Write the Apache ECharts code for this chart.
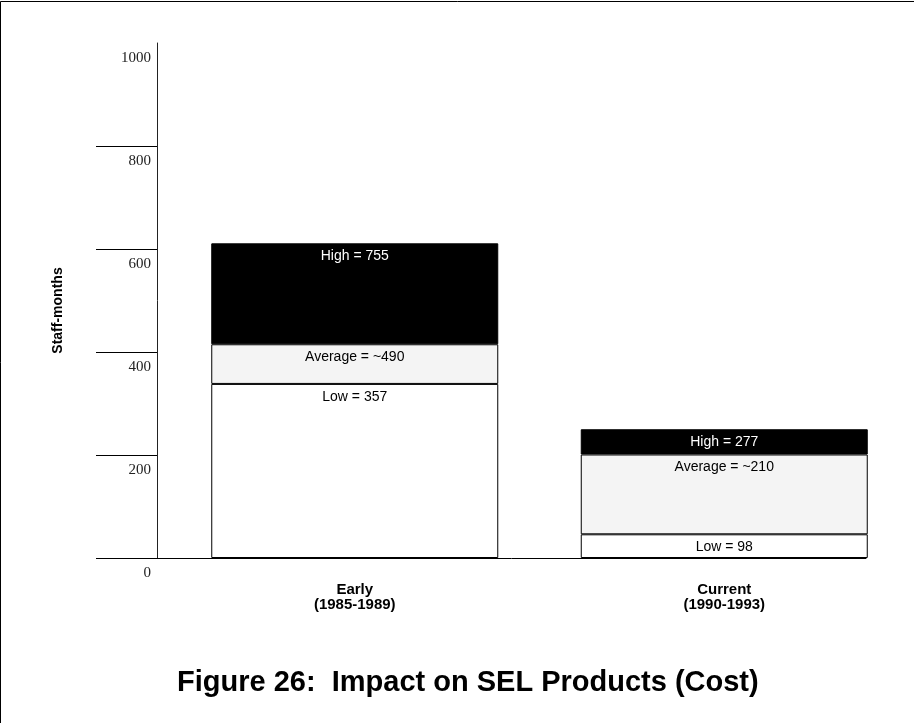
<!DOCTYPE html>
<html>
<head>
<meta charset="utf-8">
<script src="https://cdn.jsdelivr.net/npm/echarts@6/dist/echarts.min.js"></script>
<style>
  html, body { margin: 0; padding: 0; background: #fff; }
  #chart { width: 914px; height: 723px; }
</style>
</head>
<body>
<div id="chart"></div>
<script>
// ---- data ----
const categories = ['Early\n(1985-1989)', 'Current\n(1990-1993)'];
// top of each segment as drawn against the staff-months axis
const lowTop  = [338, 46];
const avgTop  = [415, 201];
const highTop = [611, 250];
// values printed inside the segments
const lowText  = ['357', '98'];
const avgText  = ['~490', '~210'];
const highText = ['755', '277'];
// axis tick labels
const yLabels = [0, 200, 400, 600, 800, 1000];
const yTickLines = [0, 200, 400, 600, 800];

const lowSeg  = lowTop.slice();
const avgSeg  = avgTop.map((v, i) => v - lowTop[i]);
const highSeg = highTop.map((v, i) => v - avgTop[i]);

const SANS = "'Liberation Sans', Arial, sans-serif";
const SERIF = "'Liberation Serif', 'Times New Roman', serif";

const chart = echarts.init(document.getElementById('chart'), null, { renderer: 'canvas' });

const segLabel = (texts, prefix, color) => ({
  show: true,
  position: 'insideTop',
  distance: 6,
  color: color,
  fontFamily: SANS,
  fontSize: 14,
  formatter: p => prefix + ' = ' + texts[p.dataIndex]
});

chart.setOption({
  animation: false,
  backgroundColor: '#fff',
  title: {
    text: 'Figure 26:  Impact on SEL Products (Cost)',
    left: 172,
    top: 663,
    textStyle: { fontFamily: SANS, fontSize: 29, fontWeight: 'bold', color: '#000' }
  },
  graphic: [{
    type: 'polyline',
    shape: { points: [[0.5, 723], [0.5, 1.5], [914, 1.5]] },
    style: { stroke: '#000', lineWidth: 1, fill: null },
    silent: true
  }],
  grid: [
    { left: 157, right: 48, top: 43, bottom: 165, containLabel: false, outerBoundsMode: 'none' },
    { left: 170, right: 5, top: 43, bottom: 165, containLabel: false, outerBoundsMode: 'none' }
  ],
  xAxis: [
    {
      gridIndex: 0, type: 'value', min: 0, max: 1,
      axisLine: { show: true, lineStyle: { color: '#000', width: 1 } },
      axisTick: { show: false }, axisLabel: { show: false }, splitLine: { show: false }
    },
    {
      gridIndex: 1, type: 'category', data: categories,
      axisLine: { show: false }, axisTick: { show: false }, splitLine: { show: false },
      axisLabel: {
        color: '#000', fontFamily: SANS, fontSize: 15, fontWeight: 'bold',
        lineHeight: 15, margin: 24, interval: 0
      }
    }
  ],
  yAxis: [
    {
      gridIndex: 0, type: 'value', min: 0, max: 1000, interval: 200,
      name: 'Staff-months', nameLocation: 'middle', nameGap: 92, nameRotate: 90,
      nameMoveOverlap: false,
      nameTextStyle: { fontFamily: SANS, fontSize: 14, fontWeight: 'bold', color: '#000', padding: [0, 20, 0, 0] },
      axisLine: { show: true, lineStyle: { color: '#222', width: 1 } },
      axisTick: { show: true, inside: false, length: 61, customValues: yTickLines, lineStyle: { color: '#000', width: 1 } },
      axisLabel: {
        customValues: yLabels,
        formatter: v => String(v),
        color: '#222', fontFamily: SERIF, fontSize: 15, margin: 6,
        verticalAlign: 'top', padding: [8, 0, 0, 0]
      },
      splitLine: { show: false }
    },
    {
      gridIndex: 1, type: 'value', min: 0, max: 1000, show: false,
      splitLine: { show: false }
    }
  ],
  series: [
    {
      name: 'Low', type: 'bar', stack: 'cost', xAxisIndex: 1, yAxisIndex: 1,
      data: lowSeg, barWidth: 287,
      itemStyle: { color: '#ffffff', borderColor: '#000', borderWidth: 1 },
      label: segLabel(lowText, 'Low', '#000')
    },
    {
      name: 'Average', type: 'bar', stack: 'cost', xAxisIndex: 1, yAxisIndex: 1,
      data: avgSeg, barWidth: 287,
      itemStyle: { color: '#f4f4f4', borderColor: '#000', borderWidth: 1 },
      label: segLabel(avgText, 'Average', '#000')
    },
    {
      name: 'High', type: 'bar', stack: 'cost', xAxisIndex: 1, yAxisIndex: 1,
      data: highSeg, barWidth: 287,
      itemStyle: { color: '#000000', borderColor: '#000', borderWidth: 1 },
      label: segLabel(highText, 'High', '#fff')
    }
  ]
});
</script>
</body>
</html>
